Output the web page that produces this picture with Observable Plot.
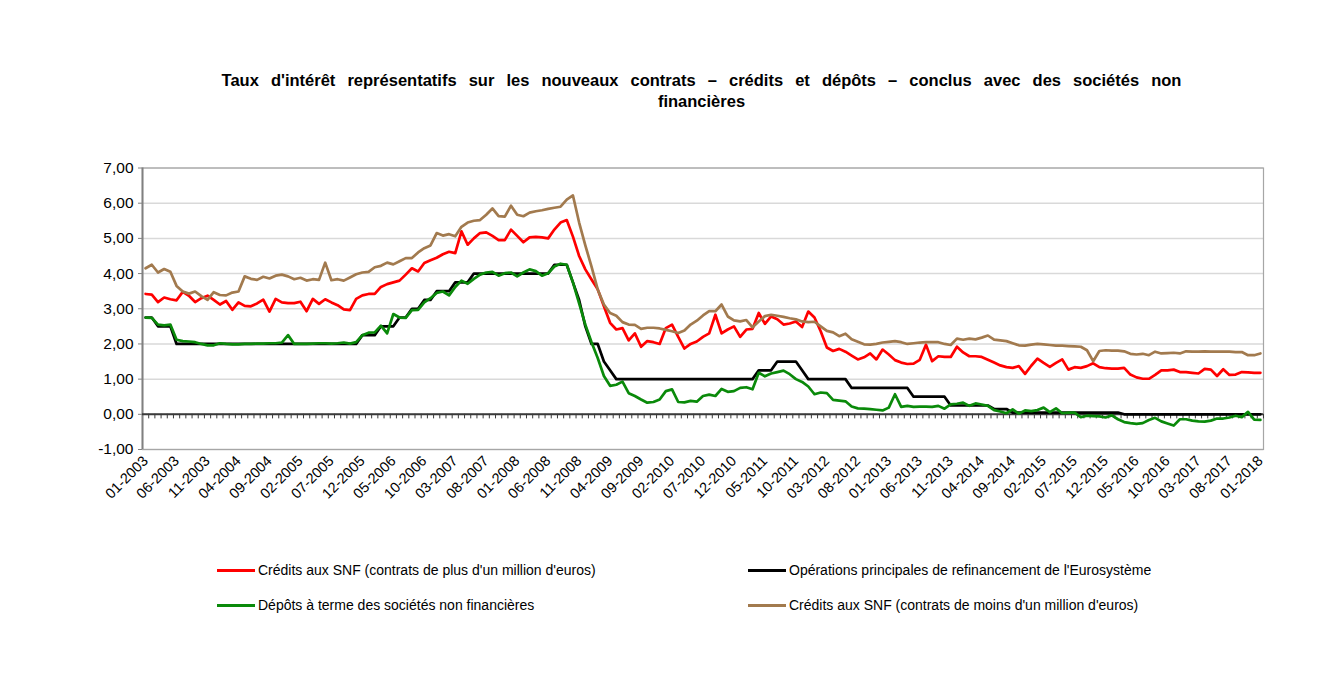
<!DOCTYPE html>
<html>
<head>
<meta charset="utf-8">
<script src="https://cdn.jsdelivr.net/npm/d3@7"></script>
<script src="https://cdn.jsdelivr.net/npm/@observablehq/plot@0.6"></script>
<style>
  body { margin: 0; background: #fff; font-family: "Liberation Sans", Arial, sans-serif; overflow: hidden; }
  #wrap { position: relative; width: 1323px; height: 680px; background: #fff; }
  #title { position: absolute; left: 80px; width: 1243px; top: 70px; text-align: center; font-weight: bold;
           font-size: 16.5px; line-height: 21px; word-spacing: 7.5px; color: #000; }
  #chart { position: absolute; left: 0; top: 140px; }
  .lg { position: absolute; height: 20px; line-height: 20px; font-size: 14px; color: #000; white-space: nowrap; display: flex; align-items: center; }
  .sw { display: inline-block; width: 38px; height: 3px; margin-right: 3px; }
</style>
</head>
<body>
<div id="wrap">
  <div id="title">Taux d'intérêt représentatifs sur les nouveaux contrats – crédits et dépôts – conclus avec des sociétés non<br>financières</div>
  <div id="chart"></div>
  <div id="legend"></div>
</div>
<script>
// Monthly categories 01-2003 .. 01-2018
const months = [];
for (let y = 2003; y <= 2018; y++) {
  for (let m = 1; m <= 12; m++) {
    if (y === 2018 && m > 1) break;
    months.push(String(m).padStart(2, "0") + "-" + y);
  }
}
const tickLabels = months.filter((d, i) => i % 5 === 0);
const yTicks = [-1, 0, 1, 2, 3, 4, 5, 6, 7];

const seriesNames = [
  "Crédits aux SNF (contrats de plus d'un million d'euros)",
  "Opérations principales de refinancement de l'Eurosystème",
  "Dépôts à terme des sociétés non financières",
  "Crédits aux SNF (contrats de moins d'un million d'euros)"
];

// Crédits aux SNF (> 1 million)
const creditsPlus = [
  3.42,3.40,3.19,3.32,3.27,3.24,3.48,3.37,3.19,3.30,
  3.37,3.25,3.12,3.22,2.97,3.18,3.08,3.07,3.15,3.26,
  2.92,3.28,3.18,3.16,3.16,3.20,2.93,3.28,3.14,3.27,
  3.18,3.10,2.98,2.96,3.28,3.38,3.42,3.42,3.62,3.70,
  3.75,3.80,3.97,4.15,4.06,4.30,4.38,4.45,4.55,4.62,
  4.58,5.20,4.82,5.00,5.15,5.17,5.07,4.95,4.95,5.25,
  5.07,4.89,5.03,5.04,5.03,5.00,5.25,5.45,5.52,5.05,
  4.50,4.12,3.83,3.55,3.07,2.60,2.41,2.45,2.10,2.30,
  1.92,2.08,2.05,2.00,2.45,2.55,2.20,1.87,2.00,2.07,
  2.20,2.30,2.83,2.30,2.41,2.50,2.20,2.41,2.43,2.88,
  2.57,2.78,2.70,2.55,2.58,2.64,2.48,2.92,2.75,2.36,
  1.90,1.80,1.86,1.78,1.67,1.56,1.62,1.73,1.56,1.84,
  1.70,1.54,1.47,1.43,1.44,1.55,1.98,1.51,1.65,1.63,
  1.63,1.92,1.76,1.65,1.65,1.63,1.55,1.47,1.39,1.34,
  1.32,1.37,1.15,1.38,1.58,1.46,1.35,1.46,1.56,1.27,
  1.34,1.32,1.37,1.45,1.34,1.31,1.30,1.30,1.32,1.13,
  1.05,1.01,1.01,1.12,1.25,1.25,1.27,1.20,1.20,1.18,
  1.16,1.29,1.27,1.09,1.28,1.12,1.13,1.20,1.19,1.18,
  1.18
];

// Opérations principales de refinancement
const mro = [
  2.75,2.75,2.50,2.50,2.50,2.00,2.00,2.00,2.00,2.00,
  2.00,2.00,2.00,2.00,2.00,2.00,2.00,2.00,2.00,2.00,
  2.00,2.00,2.00,2.00,2.00,2.00,2.00,2.00,2.00,2.00,
  2.00,2.00,2.00,2.00,2.00,2.25,2.25,2.25,2.50,2.50,
  2.50,2.75,2.75,3.00,3.00,3.25,3.25,3.50,3.50,3.50,
  3.75,3.75,3.75,4.00,4.00,4.00,4.00,4.00,4.00,4.00,
  4.00,4.00,4.00,4.00,4.00,4.00,4.25,4.25,4.25,3.75,
  3.25,2.50,2.00,2.00,1.50,1.25,1.00,1.00,1.00,1.00,
  1.00,1.00,1.00,1.00,1.00,1.00,1.00,1.00,1.00,1.00,
  1.00,1.00,1.00,1.00,1.00,1.00,1.00,1.00,1.00,1.25,
  1.25,1.25,1.50,1.50,1.50,1.50,1.25,1.00,1.00,1.00,
  1.00,1.00,1.00,1.00,0.75,0.75,0.75,0.75,0.75,0.75,
  0.75,0.75,0.75,0.75,0.50,0.50,0.50,0.50,0.50,0.50,
  0.25,0.25,0.25,0.25,0.25,0.25,0.25,0.15,0.15,0.15,
  0.05,0.05,0.05,0.05,0.05,0.05,0.05,0.05,0.05,0.05,
  0.05,0.05,0.05,0.05,0.05,0.05,0.05,0.05,0.00,0.00,
  0.00,0.00,0.00,0.00,0.00,0.00,0.00,0.00,0.00,0.00,
  0.00,0.00,0.00,0.00,0.00,0.00,0.00,0.00,0.00,0.00,
  0.00
];

// Dépôts à terme des SNF
const depots = [
  2.75,2.74,2.55,2.53,2.55,2.12,2.08,2.07,2.05,2.00,
  1.96,1.96,2.02,2.00,1.99,1.99,2.00,2.00,2.01,2.01,
  2.02,2.02,2.04,2.25,2.00,2.00,2.00,2.01,2.02,2.02,
  2.01,2.02,2.04,2.01,2.05,2.25,2.32,2.33,2.52,2.30,
  2.85,2.75,2.74,2.96,2.97,3.18,3.30,3.45,3.49,3.38,
  3.62,3.80,3.71,3.85,3.97,4.03,4.05,3.94,4.01,4.03,
  3.92,4.03,4.12,4.07,3.94,4.01,4.20,4.28,4.25,3.75,
  3.15,2.55,2.05,1.60,1.09,0.81,0.84,0.93,0.60,0.52,
  0.42,0.33,0.35,0.42,0.66,0.71,0.35,0.34,0.38,0.36,
  0.52,0.56,0.52,0.72,0.64,0.66,0.75,0.77,0.71,1.18,
  1.08,1.16,1.20,1.24,1.14,1.00,0.92,0.79,0.57,0.62,
  0.60,0.41,0.39,0.37,0.22,0.17,0.16,0.15,0.13,0.11,
  0.19,0.57,0.21,0.24,0.21,0.22,0.22,0.21,0.24,0.16,
  0.28,0.30,0.33,0.24,0.31,0.28,0.24,0.12,0.08,0.03,
  0.14,0.02,0.11,0.09,0.12,0.19,0.06,0.17,0.03,0.05,
  0.05,-0.08,-0.04,-0.05,-0.06,-0.09,-0.03,-0.14,-0.22,-0.25,
  -0.27,-0.25,-0.16,-0.10,-0.20,-0.26,-0.32,-0.14,-0.14,-0.18,
  -0.20,-0.21,-0.18,-0.12,-0.12,-0.09,-0.04,-0.08,0.07,-0.15,
  -0.16
];

// Crédits aux SNF (< 1 million)
const creditsMoins = [
  4.15,4.25,4.03,4.13,4.05,3.65,3.49,3.43,3.49,3.36,
  3.25,3.47,3.39,3.38,3.46,3.49,3.92,3.85,3.82,3.91,
  3.86,3.94,3.97,3.92,3.84,3.88,3.80,3.84,3.82,4.31,
  3.81,3.84,3.80,3.89,3.98,4.03,4.05,4.18,4.22,4.31,
  4.26,4.35,4.44,4.44,4.60,4.72,4.80,5.15,5.08,5.12,
  5.06,5.33,5.45,5.50,5.52,5.67,5.85,5.63,5.62,5.93,
  5.67,5.63,5.73,5.77,5.80,5.84,5.87,5.90,6.10,6.22,
  5.45,4.80,4.20,3.55,3.12,2.88,2.80,2.62,2.55,2.54,
  2.43,2.46,2.46,2.44,2.40,2.36,2.31,2.38,2.55,2.66,
  2.81,2.93,2.93,3.12,2.78,2.67,2.64,2.68,2.47,2.64,
  2.79,2.83,2.80,2.77,2.73,2.70,2.64,2.62,2.63,2.50,
  2.37,2.33,2.22,2.29,2.13,2.06,1.99,1.98,2.00,2.04,
  2.06,2.08,2.05,2.00,2.02,2.04,2.05,2.05,2.05,2.00,
  1.97,2.15,2.12,2.15,2.13,2.18,2.24,2.12,2.10,2.08,
  2.02,1.96,1.95,1.98,2.00,1.99,1.97,1.95,1.95,1.94,
  1.93,1.92,1.82,1.51,1.80,1.82,1.81,1.81,1.79,1.72,
  1.70,1.72,1.68,1.78,1.73,1.74,1.75,1.73,1.79,1.78,
  1.78,1.79,1.78,1.78,1.78,1.78,1.77,1.77,1.68,1.68,
  1.73
];

const colors = ["#ff0000", "#000000", "#0a8a0a", "#a27a4e"];
const seriesValues = [creditsPlus, mro, depots, creditsMoins];

const W = 1323, ML = 142, MR = 60, MT = 27.5, MB = 60;
const H = MT + 281.5 + MB;
const step = (W - ML - MR) / months.length;

const lineMarks = seriesValues.map((vals, k) =>
  Plot.line(months, {x: d => d, y: (d, i) => vals[i], stroke: colors[k], strokeWidth: 2.7, curve: "linear"})
);

const chart = Plot.plot({
  width: W,
  height: H,
  marginLeft: ML,
  marginRight: MR,
  marginTop: MT,
  marginBottom: MB,
  style: {fontFamily: "'Liberation Sans', Arial, sans-serif", fontSize: "14.5px", color: "#000", background: "white", overflow: "visible"},
  x: {type: "point", domain: months, padding: 0.5, ticks: tickLabels, tickRotate: -45, tickSize: 0, tickPadding: 9, label: null},
  y: {domain: [-1, 7], ticks: yTicks, tickFormat: d => d.toFixed(2).replace(".", ","), tickSize: 4, tickPadding: 5, label: null},
  marks: [
    Plot.ruleY(yTicks, {stroke: "#d9d9d9", strokeWidth: 1.5}),
    Plot.frame({stroke: "#a6a6a6", strokeWidth: 1.2}),
    Plot.ruleX([months[0]], {x: d => d, dx: -step / 2, stroke: "#808080", strokeWidth: 2}),
    Plot.ruleY([0], {stroke: "#3a3a3a", strokeWidth: 2}),
    Plot.ruleX(months, {x: d => d, y1: 0, y2: -0.13, dx: step / 2, stroke: "#3a3a3a", strokeWidth: 1}),
    ...lineMarks
  ]
});

// axis text styling
chart.querySelectorAll('[aria-label^="y-axis"] text').forEach(t => { t.style.fontSize = "15.5px"; });
chart.querySelectorAll('[aria-label="y-axis tick"] path, [aria-label="y-axis"] line').forEach(p => { p.setAttribute("stroke", "#808080"); });
document.getElementById("chart").appendChild(chart);

// legend
const legendPos = [[217, 560], [748, 560], [217, 595], [748, 595]];
const legend = document.getElementById("legend");
seriesNames.forEach((name, k) => {
  const item = document.createElement("div");
  item.className = "lg";
  item.style.left = legendPos[k][0] + "px";
  item.style.top = legendPos[k][1] + "px";
  const sw = document.createElement("span");
  sw.className = "sw";
  sw.style.background = colors[k];
  item.appendChild(sw);
  item.appendChild(document.createTextNode(name));
  legend.appendChild(item);
});
</script>
</body>
</html>
